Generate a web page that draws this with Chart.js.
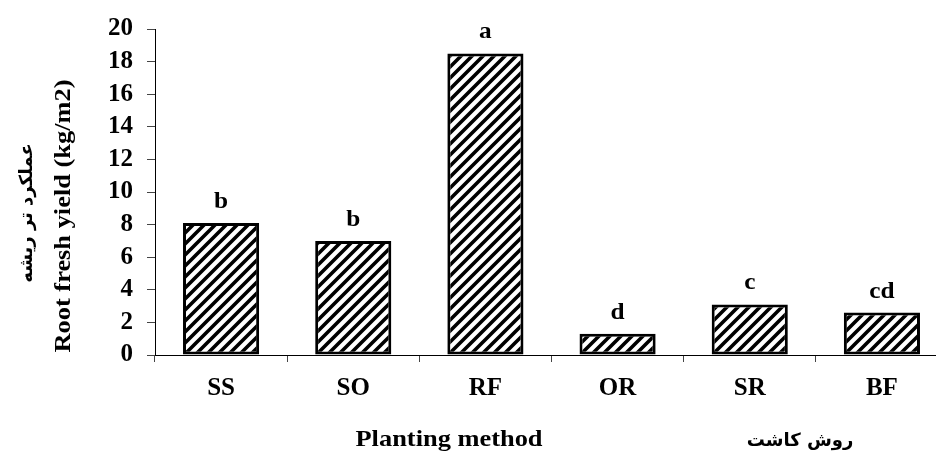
<!DOCTYPE html>
<html>
<head>
<meta charset="utf-8">
<script src="https://cdn.jsdelivr.net/npm/chart.js@4.4.1/dist/chart.umd.min.js"></script>
<style>
html,body{margin:0;padding:0;background:#fff;overflow:hidden;}
#wrap{width:936px;height:458px;overflow:hidden;position:relative;}
canvas{display:block;}
</style>
</head>
<body>
<div id="wrap"><canvas id="c" width="948" height="458"></canvas></div>
<script>
const categories = ['SS', 'SO', 'RF', 'OR', 'SR', 'BF'];
const yieldValues = [8.1, 7.0, 18.5, 1.3, 3.1, 2.6];
const groupLetters = ['b', 'b', 'a', 'd', 'c', 'cd'];
const yTitleEn = 'Root fresh yield (kg/m2)';
const yTitleFa = 'عملکرد تر ریشه';
const xTitleEn = 'Planting method';
const xTitleFa = 'روش کاشت';

const SERIF = '"Liberation Serif", "Times New Roman", serif';
const ARABIC = '"DejaVu Sans", sans-serif';

function makeHatch() {
  const s = 11;
  const p = document.createElement('canvas');
  p.width = s; p.height = s;
  const g = p.getContext('2d');
  g.fillStyle = '#fff';
  g.fillRect(0, 0, s, s);
  g.strokeStyle = '#000';
  g.lineWidth = 3.6;
  g.lineCap = 'square';
  g.beginPath();
  g.moveTo(-s, 2 * s); g.lineTo(2 * s, -s);
  g.moveTo(-2 * s, 2 * s); g.lineTo(s, -s);
  g.moveTo(0, 2 * s); g.lineTo(3 * s, -s);
  g.stroke();
  return document.getElementById('c').getContext('2d').createPattern(p, 'repeat');
}

function stretchedText(ctx, text, x, y, rot, font, sx) {
  ctx.save();
  ctx.translate(x, y);
  if (rot) ctx.rotate(rot);
  ctx.scale(sx, 1);
  ctx.font = font;
  ctx.fillText(text, 0, 0);
  ctx.restore();
}

const labelsPlugin = {
  id: 'extraText',
  afterDatasetsDraw(chart) {
    const ctx = chart.ctx;
    const meta = chart.getDatasetMeta(0);
    ctx.save();
    ctx.fillStyle = '#000';
    ctx.textAlign = 'center';
    ctx.textBaseline = 'alphabetic';
    meta.data.forEach((bar, i) => {
      stretchedText(ctx, groupLetters[i], bar.x, bar.y - 15, 0, 'bold 23px ' + SERIF, 1.1);
    });
    ctx.restore();
  },
  afterDraw(chart) {
    const ctx = chart.ctx;
    ctx.save();
    ctx.fillStyle = '#000';
    ctx.textAlign = 'center';
    ctx.textBaseline = 'middle';
    stretchedText(ctx, yTitleEn, 64, 216, -Math.PI / 2, 'bold 24px ' + SERIF, 1.1);
    stretchedText(ctx, yTitleFa, 27, 213, -Math.PI / 2, 'bold 18px ' + ARABIC, 1.0);
    stretchedText(ctx, xTitleEn, 449, 440, 0, 'bold 24px ' + SERIF, 1.1);
    stretchedText(ctx, xTitleFa, 800, 441, 0, 'bold 18px ' + ARABIC, 1.0);
    ctx.restore();
  }
};

new Chart(document.getElementById('c'), {
  type: 'bar',
  data: {
    labels: categories,
    datasets: [{
      data: yieldValues,
      backgroundColor: makeHatch(),
      borderColor: '#000',
      borderWidth: 3,
      borderSkipped: false,
      barPercentage: 0.576,
      categoryPercentage: 1.0
    }]
  },
  options: {
    responsive: false,
    animation: false,
    devicePixelRatio: 1,
    layout: { padding: { top: 25, left: 0, right: 0, bottom: 0 } },
    plugins: { legend: { display: false }, tooltip: { enabled: false } },
    scales: {
      y: {
        min: 0, max: 20,
        afterFit(s) { s.width = 155; },
        ticks: { stepSize: 2, autoSkip: false, color: '#000', font: { family: SERIF, size: 25, weight: 'bold' }, padding: 14 },
        grid: { drawOnChartArea: false, tickLength: 8, color: '#444', lineWidth: 1 },
        border: { color: '#000', width: 1 }
      },
      x: {
        afterFit(s) { s.height = 103; },
        ticks: { autoSkip: false, color: '#000', font: { family: SERIF, size: 25, weight: 'bold' }, padding: 12 },
        grid: { offset: true, drawOnChartArea: false, tickLength: 7, color: '#444', lineWidth: 1 },
        border: { color: '#000', width: 1 }
      }
    }
  },
  plugins: [labelsPlugin]
});
</script>
</body>
</html>
